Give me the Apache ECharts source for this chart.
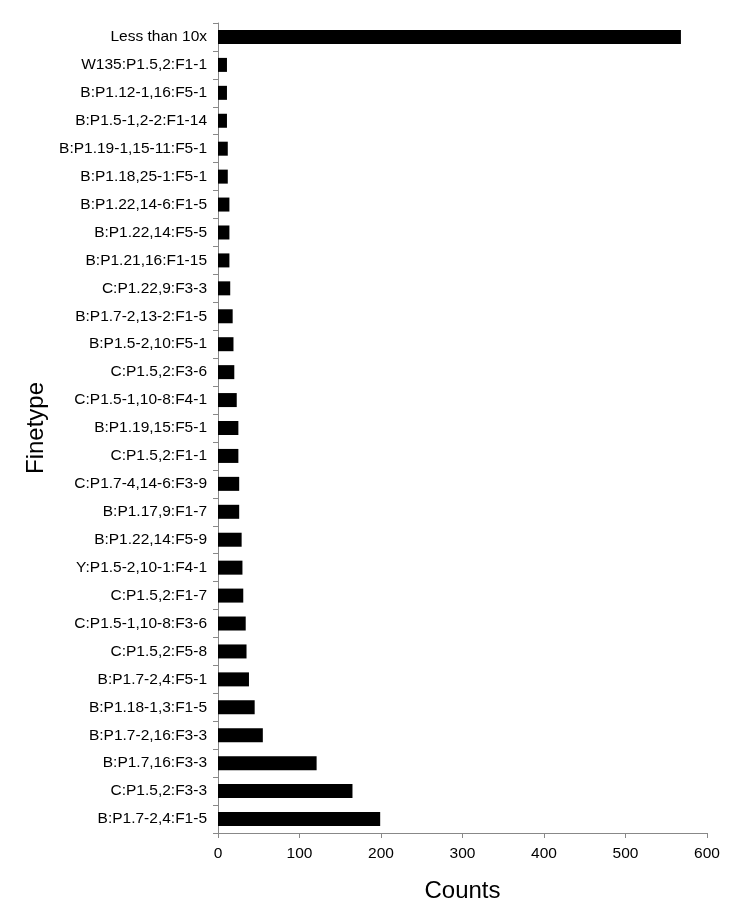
<!DOCTYPE html>
<html>
<head>
<meta charset="utf-8">
<script src="https://cdn.jsdelivr.net/npm/echarts@6/dist/echarts.min.js"></script>
<style>html,body{margin:0;padding:0;background:#fff}#c{width:750px;height:922px}</style>
</head>
<body>
<div id="c"></div>
<script>
const categories = [
  "Less than 10x","W135:P1.5,2:F1-1","B:P1.12-1,16:F5-1","B:P1.5-1,2-2:F1-14",
  "B:P1.19-1,15-11:F5-1","B:P1.18,25-1:F5-1","B:P1.22,14-6:F1-5","B:P1.22,14:F5-5",
  "B:P1.21,16:F1-15","C:P1.22,9:F3-3","B:P1.7-2,13-2:F1-5","B:P1.5-2,10:F5-1",
  "C:P1.5,2:F3-6","C:P1.5-1,10-8:F4-1","B:P1.19,15:F5-1","C:P1.5,2:F1-1",
  "C:P1.7-4,14-6:F3-9","B:P1.17,9:F1-7","B:P1.22,14:F5-9","Y:P1.5-2,10-1:F4-1",
  "C:P1.5,2:F1-7","C:P1.5-1,10-8:F3-6","C:P1.5,2:F5-8","B:P1.7-2,4:F5-1",
  "B:P1.18-1,3:F1-5","B:P1.7-2,16:F3-3","B:P1.7,16:F3-3","C:P1.5,2:F3-3","B:P1.7-2,4:F1-5"
];
const counts = [
  568,11,11,11,
  12,12,14,14,
  14,15,18,19,
  20,23,25,25,
  26,26,29,30,
  31,34,35,38,
  45,55,121,165,199
];
const xTicks = {min:0, max:600, interval:100};

const chart = echarts.init(document.getElementById('c'));
const font = 'Liberation Sans, Arial, sans-serif';
chart.setOption({
  animation:false,
  grid:{left:218, right:43, top:23, bottom:89, containLabel:false},
  xAxis:{
    type:'value', min:xTicks.min, max:xTicks.max, interval:xTicks.interval,
    name:'Counts', nameLocation:'middle', nameGap:46,
    nameTextStyle:{fontFamily:font, fontSize:24, color:'#000'},
    axisLine:{show:true, lineStyle:{color:'#888', width:1}},
    axisTick:{show:true, length:5, lineStyle:{color:'#888'}},
    axisLabel:{fontFamily:font, fontSize:15.5, color:'#000', margin:13},
    splitLine:{show:false}
  },
  yAxis:{
    type:'category', data:categories, inverse:true,
    name:'Finetype', nameLocation:'middle', nameGap:170,
    nameTextStyle:{fontFamily:font, fontSize:24, color:'#000'},
    axisLine:{show:true, lineStyle:{color:'#888', width:1}},
    axisTick:{show:true, length:5, lineStyle:{color:'#888'}},
    axisLabel:{fontFamily:font, fontSize:15.5, color:'#000', margin:11}
  },
  series:[{
    type:'bar', data:counts, barWidth:14,
    itemStyle:{color:'#000'}
  }]
});
</script>
</body>
</html>
